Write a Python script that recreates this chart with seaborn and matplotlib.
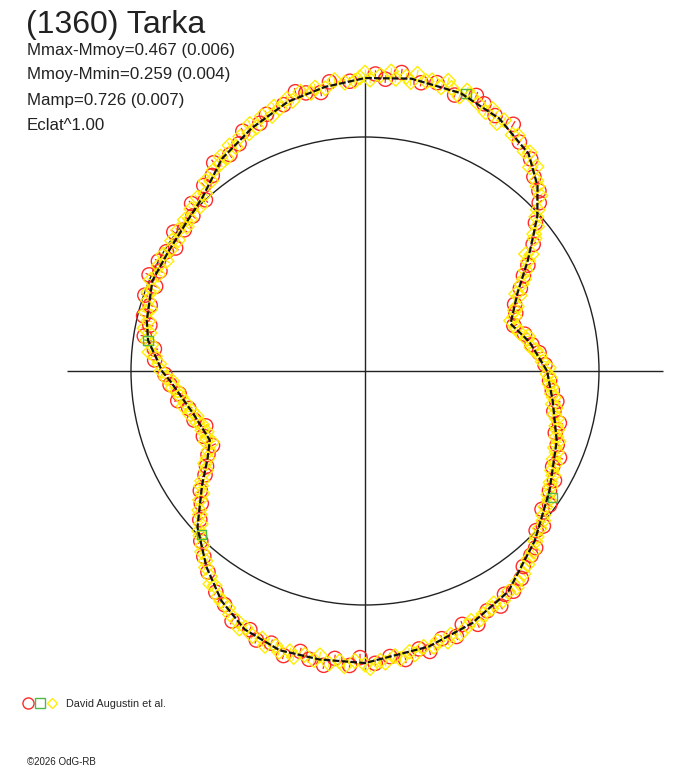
import numpy as np
import pandas as pd
import matplotlib
matplotlib.use("Agg")
from matplotlib import pyplot as plt
from matplotlib.collections import LineCollection
from matplotlib.lines import Line2D
from matplotlib.legend_handler import HandlerTuple
import seaborn as sns

title = "(1360) Tarka"
info_lines = ["Mmax-Mmoy=0.467 (0.006)", "Mmoy-Mmin=0.259 (0.004)",
              "Mamp=0.726 (0.007)", "Eclat^1.00"]
observer = "David Augustin et al."
credit = "\u00a92026 OdG-RB"

# fitted lightcurve: rotation angle (deg) and relative flux (mean = 1)
model_angle = [0, 10, 18, 27, 34, 39, 42, 47, 53, 62, 71, 81, 90, 98, 106, 115,
               124, 133, 141, 149, 157, 167, 172, 177, 180, 183, 194, 204, 209,
               215, 223, 231, 238, 245, 253, 261, 270, 283, 293, 303, 315, 327,
               340, 351]
model_flux = [0.778, 0.714, 0.654, 0.731, 0.838, 0.927, 0.991, 1.081, 1.162,
              1.222, 1.256, 1.265, 1.252, 1.226, 1.197, 1.145, 1.094, 1.017,
              0.991, 0.983, 0.987, 0.957, 0.936, 0.889, 0.868, 0.833, 0.756,
              0.726, 0.769, 0.850, 0.979, 1.077, 1.158, 1.218, 1.248, 1.248,
              1.248, 1.209, 1.171, 1.124, 1.026, 0.940, 0.872, 0.812]

# observations, red circles
red_angle = [2, 6, 9, 13, 17, 21, 24, 28, 31, 33, 37, 41, 44, 46, 49, 52, 56, 59,
             63, 66, 68, 72, 76, 79, 83, 86, 88, 93, 97, 99, 102, 104, 107, 111,
             113, 117, 119, 122, 126, 128, 131, 133, 136, 138, 142, 144, 147, 149,
             152, 154, 156, 158, 161, 163, 166, 168, 171, 174, 177, 181, 184, 187,
             189, 192, 196, 199, 202, 206, 208, 211, 213, 216, 219, 222, 226, 229,
             232, 236, 239, 242, 246, 248, 251, 254, 257, 259, 262, 264, 267, 269,
             272, 275, 278, 281, 283, 286, 289, 291, 294, 297, 300, 302, 304, 307,
             309, 312, 314, 317, 319, 322, 324, 327, 330, 333, 336, 339, 342, 345,
             348, 351, 354, 357]
red_flux = [0.770, 0.748, 0.722, 0.700, 0.665, 0.690, 0.700, 0.752, 0.790, 0.830,
            0.900, 0.965, 1.035, 1.070, 1.100, 1.150, 1.180, 1.230, 1.225, 1.250,
            1.270, 1.240, 1.270, 1.255, 1.285, 1.250, 1.270, 1.240, 1.245, 1.205,
            1.215, 1.230, 1.190, 1.175, 1.150, 1.150, 1.110, 1.090, 1.100, 1.060,
            1.050, 1.000, 1.030, 0.990, 0.980, 1.010, 0.965, 0.990, 1.000, 0.975,
            1.010, 0.965, 0.995, 0.960, 0.975, 0.940, 0.955, 0.905, 0.900, 0.855,
            0.835, 0.800, 0.810, 0.770, 0.760, 0.720, 0.745, 0.725, 0.760, 0.790,
            0.815, 0.870, 0.900, 0.950, 1.010, 1.050, 1.090, 1.140, 1.165, 1.210,
            1.210, 1.240, 1.230, 1.265, 1.230, 1.255, 1.270, 1.235, 1.260, 1.225,
            1.250, 1.225, 1.245, 1.210, 1.230, 1.190, 1.200, 1.160, 1.185, 1.150,
            1.160, 1.125, 1.135, 1.110, 1.075, 1.060, 1.050, 1.000, 1.010, 0.960,
            0.975, 0.940, 0.935, 0.900, 0.910, 0.880, 0.855, 0.860, 0.825, 0.830,
            0.805, 0.790]

# observations, yellow diamonds
yellow_angle = [1, 3, 5, 7, 8, 11, 12, 14, 16, 19, 20, 22, 23, 26, 27, 29, 30, 32,
                34, 35, 36, 38, 39, 40, 42, 43, 45, 47, 48, 50, 51, 53, 54, 57, 58,
                61, 62, 64, 65, 67, 69, 70, 71, 73, 74, 75, 77, 78, 80, 81, 82, 84,
                85, 87, 89, 90, 91, 92, 94, 96, 98, 100, 101, 103, 105, 106, 108,
                109, 110, 112, 114, 115, 116, 118, 120, 121, 123, 124, 125, 127,
                129, 130, 132, 134, 135, 137, 139, 140, 141, 143, 145, 146, 148,
                150, 151, 153, 155, 157, 159, 160, 162, 164, 165, 167, 169, 170,
                172, 173, 175, 176, 178, 180, 182, 183, 185, 186, 188, 190, 191,
                193, 194, 195, 197, 198, 200, 201, 203, 204, 205, 207, 209, 210,
                212, 214, 215, 217, 218, 220, 221, 223, 224, 225, 227, 228, 230,
                231, 233, 234, 235, 237, 238, 240, 241, 243, 244, 245, 247, 249,
                250, 252, 253, 255, 256, 258, 260, 261, 263, 265, 266, 268, 270,
                271, 273, 274, 276, 277, 279, 280, 282, 284, 285, 287, 288, 290,
                292, 293, 295, 296, 298, 299, 301, 303, 305, 306, 308, 310, 311,
                313, 315, 316, 318, 320, 321, 323, 325, 326, 328, 329, 331, 332,
                334, 335, 337, 338, 340, 341, 343, 344, 346, 347, 349, 350, 352,
                353, 355, 356, 358, 359]
yellow_flux = [0.785, 0.760, 0.750, 0.735, 0.718, 0.705, 0.712, 0.680, 0.672,
               0.660, 0.680, 0.690, 0.705, 0.735, 0.725, 0.765, 0.785, 0.810,
               0.840, 0.870, 0.850, 0.920, 0.930, 0.960, 0.985, 1.010, 1.060,
               1.080, 1.095, 1.140, 1.120, 1.170, 1.160, 1.200, 1.190, 1.225,
               1.200, 1.245, 1.220, 1.240, 1.260, 1.275, 1.240, 1.265, 1.290,
               1.255, 1.275, 1.265, 1.290, 1.250, 1.270, 1.255, 1.285, 1.265,
               1.245, 1.275, 1.255, 1.240, 1.235, 1.250, 1.220, 1.230, 1.210,
               1.225, 1.195, 1.210, 1.180, 1.195, 1.160, 1.175, 1.140, 1.165,
               1.130, 1.135, 1.105, 1.125, 1.085, 1.105, 1.080, 1.075, 1.045,
               1.060, 1.020, 1.030, 0.995, 1.015, 0.990, 1.005, 0.980, 1.000,
               0.975, 0.995, 0.980, 0.995, 0.970, 0.990, 0.975, 0.995, 0.970,
               0.985, 0.975, 0.955, 0.970, 0.950, 0.960, 0.935, 0.940, 0.920,
               0.925, 0.900, 0.880, 0.870, 0.850, 0.825, 0.825, 0.805, 0.795,
               0.780, 0.790, 0.760, 0.770, 0.745, 0.750, 0.735, 0.740, 0.725,
               0.735, 0.745, 0.720, 0.750, 0.770, 0.790, 0.800, 0.840, 0.855,
               0.870, 0.895, 0.925, 0.935, 0.960, 0.985, 0.995, 1.020, 1.040,
               1.060, 1.080, 1.100, 1.125, 1.120, 1.150, 1.160, 1.170, 1.190,
               1.200, 1.225, 1.210, 1.230, 1.225, 1.250, 1.235, 1.255, 1.240,
               1.260, 1.240, 1.255, 1.230, 1.260, 1.245, 1.265, 1.240, 1.255,
               1.270, 1.240, 1.250, 1.225, 1.240, 1.215, 1.230, 1.205, 1.215,
               1.195, 1.210, 1.185, 1.195, 1.175, 1.160, 1.170, 1.155, 1.150,
               1.135, 1.145, 1.125, 1.130, 1.110, 1.100, 1.080, 1.065, 1.055,
               1.030, 1.020, 1.005, 0.995, 0.980, 0.965, 0.960, 0.945, 0.935,
               0.925, 0.920, 0.905, 0.905, 0.890, 0.890, 0.875, 0.880, 0.865,
               0.860, 0.850, 0.845, 0.830, 0.830, 0.815, 0.815, 0.805, 0.800,
               0.790, 0.790, 0.780]

# observations, green squares
green_angle = [70, 172, 225, 326]
green_flux = [1.262, 0.936, 0.988, 0.967]

RED = "#ff2a2a"
YELLOW = "#ffee00"
GREEN = "#4fb848"
ERR = 0.016


def to_frame(angle, flux):
    a = np.radians(np.asarray(angle, dtype=float))
    f = np.asarray(flux, dtype=float)
    return pd.DataFrame({"angle": a, "flux": f,
                         "x": f * np.cos(a), "y": f * np.sin(a)})


def radial_bars(df, err):
    lo = df["flux"] - err
    hi = df["flux"] + err
    c, s = np.cos(df["angle"]), np.sin(df["angle"])
    return np.stack([np.column_stack([lo * c, lo * s]),
                     np.column_stack([hi * c, hi * s])], axis=1)


sns.set_style("white")
plt.rcParams["font.family"] = ["Liberation Sans", "DejaVu Sans"]

fig = plt.figure(figsize=(6.88, 7.68), dpi=100)
ax = fig.add_axes([0, 0, 1, 1])
scale = 234.0  # pixels per unit of mean flux
cx, cy = 365, 371
ax.set_axis_off()

ext = 1.275
ax.hlines(0, -ext, ext, color="#222222", lw=1.0, zorder=1)
ax.vlines(0, -ext, ext, color="#222222", lw=1.0, zorder=1)
ax.add_patch(plt.Circle((0, 0), 1.0, fill=False, ec="#222222", lw=1.0, zorder=1))

red = to_frame(red_angle, red_flux)
yellow = to_frame(yellow_angle, yellow_flux)
green = to_frame(green_angle, green_flux)

for df, col in [(red, RED), (yellow, YELLOW), (green, GREEN)]:
    ax.add_collection(LineCollection(radial_bars(df, ERR), colors=col, lw=0.9, zorder=2))

sns.scatterplot(data=red, x="x", y="y", marker="o", s=105, color=RED,
                facecolor="none", edgecolor=RED, linewidth=1.0, ax=ax, zorder=3)
sns.scatterplot(data=yellow, x="x", y="y", marker="D", s=55, color=YELLOW,
                facecolor="none", edgecolor=YELLOW, linewidth=1.0, ax=ax, zorder=3)
sns.scatterplot(data=green, x="x", y="y", marker="s", s=48, color=GREEN,
                facecolor="none", edgecolor=GREEN, linewidth=1.0, ax=ax, zorder=4)

model = to_frame(model_angle + model_angle[:1], model_flux + model_flux[:1])
sns.lineplot(data=model, x="x", y="y", sort=False, estimator=None, color="#111111",
             lw=1.6, ls=(0, (3, 1)), ax=ax, zorder=5)
ax.set_xlim(-cx / scale, (688 - cx) / scale)
ax.set_ylim(-(768 - cy) / scale, cy / scale)

fig.text(26 / 688, 1 - 25 / 768, title, fontsize=23, va="center", color="#222222")
for i, line in enumerate(info_lines):
    fig.text(27 / 688, 1 - (50 + 25 * i) / 768, line, fontsize=12.2, va="center",
             color="#222222")

handle = (Line2D([], [], ls="", marker="o", ms=8, mfc="none", mec=RED, mew=1.0),
          Line2D([], [], ls="", marker="s", ms=6.5, mfc="none", mec=GREEN, mew=1.0),
          Line2D([], [], ls="", marker="D", ms=5.5, mfc="none", mec=YELLOW, mew=1.0))
ax.legend([handle], [observer], handler_map={tuple: HandlerTuple(ndivide=None, pad=0.1)},
          loc="center left", bbox_to_anchor=(22 / 688, 1 - 704 / 768),
          bbox_transform=fig.transFigure, frameon=False, fontsize=7.8,
          handlelength=3.3, handletextpad=0.8, borderpad=0, borderaxespad=0)

fig.text(27 / 688, 1 - 762 / 768, credit, fontsize=7, va="center", color="#222222")

fig.savefig("out.png", dpi=100)
